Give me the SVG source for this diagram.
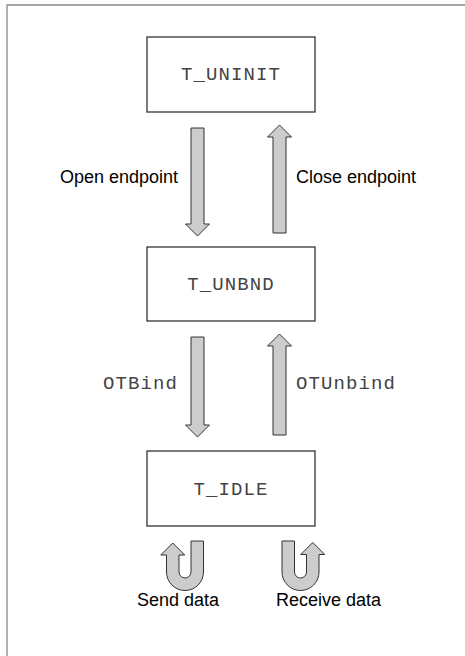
<svg xmlns="http://www.w3.org/2000/svg" width="465" height="656" viewBox="0 0 465 656">
<style>
.frame{stroke:#888;stroke-width:1.3;fill:none}
.box{fill:#fff;stroke:#333;stroke-width:1.3}
.state{font-family:"Liberation Mono","DejaVu Sans Mono",monospace;font-size:19px;letter-spacing:1.1px;fill:#444;text-anchor:middle}
.mono{font-family:"Liberation Mono","DejaVu Sans Mono",monospace;font-size:19px;letter-spacing:1.1px;fill:#444}
.lbl{font-family:"Liberation Sans",Arial,sans-serif;font-size:18px;fill:#000}
.arrow{fill:#ccc;stroke:#333;stroke-width:1}
</style>
<rect width="465" height="656" fill="#fff"/>
<path class="frame" d="M7,656 V5 H465"/>
<g id="T_UNINIT">
<rect class="box" x="147" y="37" width="168" height="75"/>
<text class="state" x="231" y="80">T_UNINIT</text>
</g>
<g id="T_UNBND">
<rect class="box" x="147" y="247" width="168" height="74"/>
<text class="state" x="231" y="290">T_UNBND</text>
</g>
<g id="T_IDLE">
<rect class="box" x="147" y="451" width="168" height="75"/>
<text class="state" x="231" y="495">T_IDLE</text>
</g>
<g id="connectors">
<path class="arrow" d="M191,128 H204 V224 H209.5 L197.5,236 L185.5,224 H191 Z"/>
<path class="arrow" d="M279.5,125 L291.5,137 H286 V233 H273 V137 H267.5 Z"/>
<path class="arrow" d="M191,337 H204 V425 H209.5 L197.5,437 L185.5,425 H191 Z"/>
<path class="arrow" d="M279.5,334 L291.5,346 H286 V435 H273 V346 H267.5 Z"/>
<path class="arrow" d="M203.5,541 V572 A18.5,18.5 0 0 1 166.5,572 V555 H160.75 L172.75,543 L184.75,555 H179 V572 A6,6 0 0 0 191,572 V541 Z"/>
<path class="arrow" d="M282,541 H294.5 V572 A6,6 0 0 0 306.5,572 V554.5 H300.75 L312.75,542.5 L324.75,554.5 H319 V572 A18.5,18.5 0 0 1 282,572 Z"/>
<text class="lbl" x="178" y="183" text-anchor="end">Open endpoint</text>
<text class="lbl" x="296" y="183">Close endpoint</text>
<text class="mono" x="178" y="389" text-anchor="end">OTBind</text>
<text class="mono" x="296" y="389">OTUnbind</text>
<text class="lbl" x="178" y="606" text-anchor="middle">Send data</text>
<text class="lbl" x="276" y="606">Receive data</text>
</g>
</svg>
